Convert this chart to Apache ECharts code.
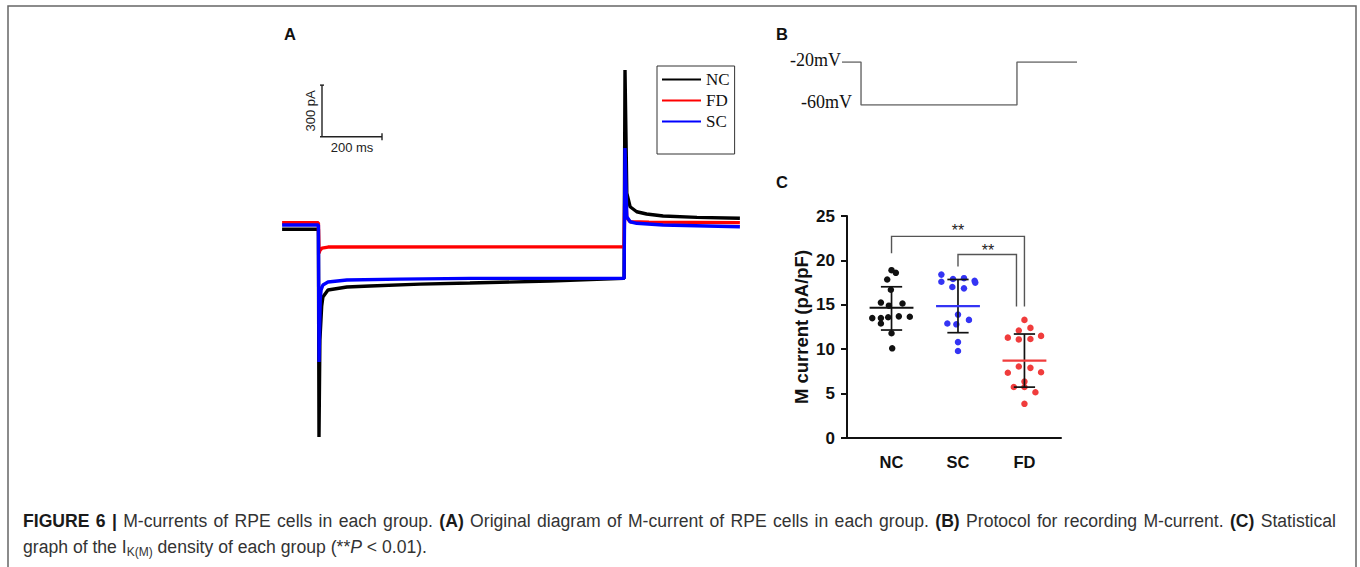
<!DOCTYPE html>
<html><head><meta charset="utf-8">
<script src="https://cdn.jsdelivr.net/npm/echarts@6/dist/echarts.min.js"></script>
<style>html,body{margin:0;padding:0;background:#fff}#c{width:1360px;height:567px}</style>
</head><body><div id="c"></div>
<script>
// ---------- Panel A: current traces, [time (ms), current (pA)] ----------
const traceNC = [[-123,-77],[-2,-77],[0,-1282],[3,-720],[9,-522],[13,-470],[30,-429],[93,-412],[170,-406],[337,-395],[503,-389],[770,-377],[1017,-362],
  [1020,847],[1026,133],[1037,54],[1059,25],[1092,12],[1147,0],[1260,-8],[1403,-13]];
const traceFD = [[-123,-39],[-2,-39],[0,-215],[3,-200],[10,-186],[30,-180],[1017,-178],
  [1020,209],[1026,-10],[1037,-33],[1100,-35],[1403,-38]];
const traceSC = [[-123,-52],[-2,-52],[0,-847],[4,-487],[7,-429],[13,-400],[30,-383],[93,-371],[270,-366],[503,-362],[1017,-362],
  [1020,395],[1026,-4],[1037,-33],[1059,-42],[1147,-52],[1403,-62]];
const traceNames = ['NC','FD','SC'];
const scaleBarMs = 200, scaleBarPA = 300;

// ---------- Panel B: voltage protocol ----------
const protocolT = [-122, 0, 0, 1000, 1000, 1385];
const protocolV = [-20, -20, -60, -60, -20, -20];
const protocolLabels = ['-20mV', '-60mV'];

// ---------- Panel C: M current density (pA/pF) ----------
const groups = ['NC', 'SC', 'FD'];
const ncValues = [18.9, 18.6, 17.85, 16.7, 15.25, 14.9, 15.15, 13.5, 13.5, 13.6, 13.7, 13.65, 12.9, 11.8, 10.1];
const ncJitter = [0, 0.065, -0.065, -0.01, -0.16, -0.04, 0.165, -0.29, -0.16, -0.05, 0.11, 0.275, -0.16, 0, 0.01];
const scValues = [18.4, 17.9, 18.0, 17.6, 17.7, 17.5, 17.0, 16.85, 13.9, 13.3, 12.9, 12.8, 10.8, 9.8];
const scJitter = [-0.25, -0.075, 0.09, -0.25, 0.25, 0.26, -0.085, 0.09, 0, 0.165, -0.16, -0.025, 0, 0];
const fdValues = [13.3, 12.1, 12.4, 11.3, 11.5, 11.1, 11.15, 8.05, 7.9, 7.35, 7.4, 6.35, 5.75, 5.75, 5.15, 3.85];
const fdJitter = [0, -0.085, 0.09, -0.25, 0.25, -0.085, 0.09, -0.085, 0.09, -0.25, 0.25, 0, -0.16, 0, 0.165, 0];
const means = [14.67, 14.86, 8.72];
const sdUpper = [17.03, 17.85, 11.71];
const sdLower = [12.16, 11.86, 5.73];
const yTicks = [0, 5, 10, 15, 20, 25];
// significance brackets: [xLeft, xRight, top, leftBottom, rightBottom, starX, starY]
const brackets = [[1, 3, 22.7, 20.8, 14.8, 2, 23.55], [2, 2.88, 20.66, 19.3, 14.8, 2.45, 21.3]];
const sigLabel = '**';

// ---------- Caption ----------
const captionLine1 = [['FIGURE', 1], ['6', 1], ['|', 1], ['M-currents', 0], ['of', 0], ['RPE', 0], ['cells', 0], ['in', 0], ['each', 0], ['group.', 0],
  ['(A)', 1], ['Original', 0], ['diagram', 0], ['of', 0], ['M-current', 0], ['of', 0], ['RPE', 0], ['cells', 0], ['in', 0], ['each', 0], ['group.', 0],
  ['(B)', 1], ['Protocol', 0], ['for', 0], ['recording', 0], ['M-current.', 0], ['(C)', 1], ['Statistical', 0]];
const captionLine2 = 'graph of the I{sub|K(M)} density of each group (**{i|P} < 0.01).';

const groupColors = ['#111111', '#3434f4', '#f03c3c'];
const SANS = 'Liberation Sans, Arial, sans-serif';
const SERIF = 'Liberation Serif, Times New Roman, serif';
const CAP_SIZE = 17.6;

const chart = echarts.init(document.getElementById('c'), null, {renderer: 'svg'});

function jitterData(vals, jit, idx) { return vals.map((v, i) => [idx + 1 + jit[i], v]); }

// justified caption line (word positions from measured widths)
const ctx = document.createElement('canvas').getContext('2d');
function wordWidth(w, bold) {
  ctx.font = (bold ? 'bold ' : '') + CAP_SIZE + 'px "Liberation Sans", Arial, sans-serif';
  return ctx.measureText(w).width;
}
const capLeft = 23, capRight = 1336;
const widths = captionLine1.map(([w, b]) => wordWidth(w, b));
const totalW = widths.reduce((a, b) => a + b, 0);
const gap = (capRight - capLeft - totalW) / (captionLine1.length - 1);
let cx = capLeft;
const captionGraphics = captionLine1.map(([w, b], i) => {
  const el = {type: 'text', x: cx, y: 521, style: {text: w, fontFamily: SANS, fontSize: CAP_SIZE,
    fontWeight: b ? 'bold' : 'normal', fill: b ? '#1a1a1a' : '#333', verticalAlign: 'middle'}};
  cx += widths[i] + gap;
  return el;
});

const option = {
  animation: false,
  backgroundColor: '#ffffff',
  grid: [
    {left: 281.5, top: 61, width: 459, height: 379},
    {left: 842, top: 62, width: 235, height: 43},
    {left: 847, top: 216, width: 214, height: 222}
  ],
  xAxis: [
    {gridIndex: 0, type: 'value', min: -125, max: 1405, show: false},
    {gridIndex: 1, type: 'value', min: -122, max: 1385, show: false},
    {gridIndex: 2, type: 'value', min: 0.33, max: 3.55,
      axisLine: {show: true, onZero: false, lineStyle: {color: '#111', width: 2}},
      axisTick: {show: false}, splitLine: {show: false},
      axisLabel: {customValues: [1, 2, 3], formatter: v => groups[Math.round(v) - 1],
        fontFamily: SANS, fontWeight: 'bold', fontSize: 16.5, color: '#111', margin: 15}}
  ],
  yAxis: [
    {gridIndex: 0, type: 'value', min: -1300, max: 900, show: false},
    {gridIndex: 1, type: 'value', min: -60, max: -20, show: false},
    {gridIndex: 2, type: 'value', min: 0, max: 25, interval: 5,
      axisLine: {show: true, lineStyle: {color: '#111', width: 2}},
      axisTick: {show: true, length: 6, lineStyle: {color: '#111', width: 2}},
      splitLine: {show: false},
      axisLabel: {fontFamily: SANS, fontWeight: 'bold', fontSize: 17, color: '#111', margin: 12,
        customValues: yTicks},
      name: 'M current (pA/pF)', nameLocation: 'middle', nameGap: 36, nameRotate: 90,
      nameTextStyle: {fontFamily: SANS, fontWeight: 'bold', fontSize: 18.5, color: '#111'}}
  ],
  legend: {
    data: traceNames, orient: 'vertical', left: 657, top: 66, padding: [5, 5, 24, 5],
    itemGap: 4, itemWidth: 39, itemHeight: 2, icon: 'rect', selectedMode: false,
    borderColor: '#333', borderWidth: 1,
    textStyle: {fontFamily: SERIF, fontSize: 17, color: '#111'}
  },
  series: [
    {name: 'NC', type: 'line', xAxisIndex: 0, yAxisIndex: 0, data: traceNC, showSymbol: false,
      color: '#000000', lineStyle: {width: 3.4, color: '#000000'}},
    {name: 'FD', type: 'line', xAxisIndex: 0, yAxisIndex: 0, data: traceFD, showSymbol: false,
      color: '#ff0000', lineStyle: {width: 3.4, color: '#ff0000'}},
    {name: 'SC', type: 'line', xAxisIndex: 0, yAxisIndex: 0, data: traceSC, showSymbol: false,
      color: '#0000ff', lineStyle: {width: 3.4, color: '#0000ff'}},
    {name: 'protocol', type: 'line', xAxisIndex: 1, yAxisIndex: 1,
      data: protocolT.map((t, i) => [t, protocolV[i]]), showSymbol: false,
      lineStyle: {width: 1.4, color: '#666'}},
    {name: 'protocolLabels', type: 'custom', xAxisIndex: 1, yAxisIndex: 1,
      data: [[protocolT[0], protocolV[0], 0], [protocolT[2], protocolV[2], 1]],
      renderItem: (p, api) => {
        const c = api.coord([api.value(0), api.value(1)]);
        const i = api.value(2);
        return {type: 'text', x: c[0] - (i === 0 ? 1 : 9), y: c[1] - (i === 0 ? 2 : 3),
          style: {text: protocolLabels[i], fontFamily: SERIF, fontSize: 18, fill: '#111',
            align: 'right', verticalAlign: 'middle'}};
      }},
    {name: 'scalebar', type: 'custom', xAxisIndex: 0, yAxisIndex: 0,
      data: [[10, 460, scaleBarMs, scaleBarPA]],
      renderItem: (p, api) => {
        const o = api.coord([api.value(0), api.value(1)]);
        const xe = api.coord([api.value(0) + api.value(2), api.value(1)]);
        const ye = api.coord([api.value(0), api.value(1) + api.value(3)]);
        const st = {stroke: '#222', lineWidth: 1.4};
        return {type: 'group', children: [
          {type: 'line', shape: {x1: o[0], y1: o[1], x2: ye[0], y2: ye[1]}, style: st},
          {type: 'line', shape: {x1: o[0] - 2, y1: o[1], x2: xe[0], y2: xe[1]}, style: st},
          {type: 'line', shape: {x1: ye[0] - 2, y1: ye[1], x2: ye[0] + 2, y2: ye[1]}, style: st},
          {type: 'line', shape: {x1: xe[0], y1: xe[1] - 3.5, x2: xe[0], y2: xe[1] + 3.5}, style: st},
          {type: 'text', x: (o[0] + xe[0]) / 2, y: o[1] + 11,
            style: {text: scaleBarMs + ' ms', fontFamily: SANS, fontSize: 13, fill: '#222', align: 'center', verticalAlign: 'middle'}},
          {type: 'text', x: o[0] - 12, y: (o[1] + ye[1]) / 2, rotation: Math.PI / 2,
            style: {text: scaleBarPA + ' pA', fontFamily: SANS, fontSize: 13, fill: '#222', align: 'center', verticalAlign: 'middle'}}
        ]};
      }},
    {name: 'NC pts', type: 'scatter', xAxisIndex: 2, yAxisIndex: 2, data: jitterData(ncValues, ncJitter, 0),
      symbolSize: 6.5, itemStyle: {color: groupColors[0], opacity: 1}},
    {name: 'SC pts', type: 'scatter', xAxisIndex: 2, yAxisIndex: 2, data: jitterData(scValues, scJitter, 1),
      symbolSize: 6.5, itemStyle: {color: groupColors[1], opacity: 1}},
    {name: 'FD pts', type: 'scatter', xAxisIndex: 2, yAxisIndex: 2, data: jitterData(fdValues, fdJitter, 2),
      symbolSize: 6.5, itemStyle: {color: groupColors[2], opacity: 1}},
    {name: 'mean sd', type: 'custom', xAxisIndex: 2, yAxisIndex: 2, z: 5,
      data: groups.map((g, i) => [i + 1, means[i], sdLower[i], sdUpper[i], i]),
      renderItem: (p, api) => {
        const x = api.value(0);
        const pm = api.coord([x, api.value(1)]);
        const plo = api.coord([x, api.value(2)]);
        const phi = api.coord([x, api.value(3)]);
        const hm = api.size([0.33, 0])[0], hc = api.size([0.16, 0])[0];
        const st = {stroke: '#111', lineWidth: 1.7};
        return {type: 'group', children: [
          {type: 'line', shape: {x1: pm[0], y1: plo[1], x2: pm[0], y2: phi[1]}, style: st},
          {type: 'line', shape: {x1: pm[0] - hc, y1: plo[1], x2: pm[0] + hc, y2: plo[1]}, style: st},
          {type: 'line', shape: {x1: pm[0] - hc, y1: phi[1], x2: pm[0] + hc, y2: phi[1]}, style: st},
          {type: 'line', shape: {x1: pm[0] - hm, y1: pm[1], x2: pm[0] + hm, y2: pm[1]},
            style: {stroke: groupColors[api.value(4)], lineWidth: 2.2}}
        ]};
      }},
    {name: 'brackets', type: 'custom', xAxisIndex: 2, yAxisIndex: 2, data: brackets,
      renderItem: (p, api) => {
        const a = api.coord([api.value(0), api.value(3)]);
        const b = api.coord([api.value(0), api.value(2)]);
        const c = api.coord([api.value(1), api.value(2)]);
        const d = api.coord([api.value(1), api.value(4)]);
        const s = api.coord([api.value(5), api.value(6)]);
        return {type: 'group', children: [
          {type: 'polyline', shape: {points: [a, b, c, d]}, style: {stroke: '#555', lineWidth: 1.4, fill: null}},
          {type: 'text', x: s[0], y: s[1] + 2, style: {text: sigLabel, fontFamily: SANS, fontSize: 16, fill: '#222', align: 'center', verticalAlign: 'middle'}}
        ]};
      }}
  ],
  graphic: [
    {type: 'polyline', shape: {points: [[8, 567], [8, 6], [1356, 6], [1356, 567]]}, style: {stroke: '#666', lineWidth: 1.5, fill: null}, silent: true},
    {type: 'text', x: 290, y: 34, style: {text: 'A', fontFamily: SANS, fontWeight: 'bold', fontSize: 16.5, fill: '#111', align: 'center', verticalAlign: 'middle'}},
    {type: 'text', x: 782, y: 34, style: {text: 'B', fontFamily: SANS, fontWeight: 'bold', fontSize: 16.5, fill: '#111', align: 'center', verticalAlign: 'middle'}},
    {type: 'text', x: 782, y: 182, style: {text: 'C', fontFamily: SANS, fontWeight: 'bold', fontSize: 16.5, fill: '#111', align: 'center', verticalAlign: 'middle'}},
    ...captionGraphics,
    {type: 'text', x: 23, y: 547, style: {
      text: captionLine2,
      fontFamily: SANS, fontSize: CAP_SIZE, fill: '#333', verticalAlign: 'middle', lineHeight: 22,
      rich: {sub: {fontFamily: SANS, fontSize: 12, fill: '#333', verticalAlign: 'bottom', lineHeight: 11},
             i: {fontFamily: SANS, fontSize: CAP_SIZE, fontStyle: 'italic', fill: '#333'}}}}
  ]
};
chart.setOption(option);
</script></body></html>
